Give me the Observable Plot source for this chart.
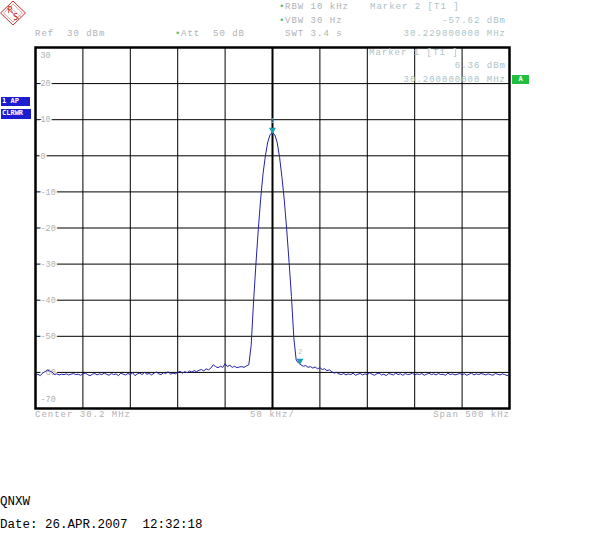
<!DOCTYPE html>
<html>
<head>
<meta charset="utf-8">
<script src="https://cdn.jsdelivr.net/npm/d3@7"></script>
<script src="https://cdn.jsdelivr.net/npm/@observablehq/plot@0.6"></script>
<style>
  body { margin: 0; background: #fff; }
  #wrap { position: relative; width: 605px; height: 546px; overflow: hidden; background: #fff;
          font-family: "Liberation Mono", "DejaVu Sans Mono", monospace; }
  #chart { position: absolute; left: 0; top: 0; }
  .t { position: absolute; font-size: 9px; line-height: 10px; height: 10px; letter-spacing: 1px;
       color: #b2b2b2; white-space: pre; }
  .m { color: #abc3c5; }
  .g { color: #58c060; }
  .box { position: absolute; font-size: 7px; line-height: 9px; color: #fff; font-weight: bold;
         white-space: pre; text-align: center; font-family: "DejaVu Sans Mono", monospace; }
  .big { position: absolute; font-size: 12.5px; line-height: 14px; color: #000; white-space: pre;
         font-family: "Liberation Mono", monospace; }
</style>
</head>
<body>
<div id="wrap">
  <div id="chart"></div>
</div>
<script>
// ---- data ----
const startMHz = 29.95;            // left edge of sweep (Center 30.2 MHz, Span 500 kHz)
const stepKHz = 2.5;               // spacing between trace samples
const levels = [
  -60.8, -60.5, -60.9, -60.2, -59.8, -59.4, -59.6, -59.9, -60.6, -60.4,
  -60.7, -60.5, -60.6, -60.4, -60.7, -60.5, -60.3, -60.6, -60.5, -60.8,
  -60.4, -60.2, -60.6, -60.9, -60.5, -60.3, -60.7, -60.4, -60.6, -60.2,
  -60.5, -60.8, -60.3, -60.6, -60.4, -60.9, -60.2, -60.5, -60.7, -60.3,
  -60.6, -60.1, -60.9, -60.4, -60.2, -60.6, -60.0, -60.5, -60.3, -60.7,
  -60.2, -59.9, -60.4, -60.6, -60.1, -60.3, -59.8, -60.5, -60.2, -60.4,
  -60.0, -59.7, -60.2, -59.8, -60.1, -59.6, -59.9, -59.5, -59.8, -59.4,
  -59.2, -59.6, -59.0, -59.3, -58.8, -57.9, -58.4, -58.7, -58.3, -58.6,
  -57.6, -58.4, -58.0, -58.6, -58.3, -58.7, -58.5, -58.4, -58.6, -58.2,
  -57.9, -52.5, -40.5, -30.0, -20.5, -12.0, -5.0, 0.0, 3.8, 5.9,
  6.36, 5.8, 3.6, -0.5, -6.0, -12.5, -20.5, -29.5, -39.0, -50.5,
  -56.6, -57.4, -57.9, -58.3, -58.1, -58.6, -58.4, -58.8, -58.5, -59.0,
  -58.7, -59.2, -59.0, -59.5, -59.3, -59.8, -60.2, -60.0, -60.4, -60.6,
  -60.3, -60.7, -60.4, -60.6, -60.2, -60.8, -60.5, -60.3, -60.7, -60.4,
  -60.6, -60.1, -60.5, -60.8, -60.4, -60.2, -60.7, -60.5, -60.9, -60.3,
  -60.5, -60.7, -60.2, -60.6, -60.4, -60.8, -60.3, -60.6, -60.5, -60.2,
  -60.7, -60.4, -60.6, -60.3, -60.8, -60.5, -60.2, -60.6, -60.4, -60.7,
  -60.3, -60.6, -60.5, -60.8, -60.2, -60.6, -60.4, -60.7, -60.5, -60.3,
  -60.6, -60.4, -60.8, -60.5, -60.2, -60.7, -60.4, -60.6, -60.3, -60.5,
  -60.7, -60.4, -60.6, -60.8, -60.3, -60.5, -60.7, -60.4, -60.6, -60.9,
  -60.5
];
const xTicks = [29.95, 30.00, 30.05, 30.10, 30.15, 30.20, 30.25, 30.30, 30.35, 30.40, 30.45];
const centerMHz = 30.2;
const yTicks = [30, 20, 10, 0, -10, -20, -30, -40, -50, -60, -70];
const yTickLabels = ["30", "20", "10", "0", "-10", "-20", "-30", "-40", "-50", "-60", "-70"];
const markerNames = ["1", "2"];
const markerFreqs = [30.2, 30.229];
const markerLevels = [6.36, -57.62];

// header / footer texts
const headerLeft = [
  {text: "Ref  30 dBm", left: 35, y: 34},
  {text: "Att  50 dB", left: 181, y: 34},
  {text: "RBW 10 kHz", left: 285, y: 7},
  {text: "VBW 30 Hz", left: 285, y: 21},
  {text: "SWT 3.4 s", left: 285, y: 34}
];
const bullets = [{left: 175, y: 34}, {left: 279, y: 7}, {left: 279, y: 21}];
const markerLeft = [
  {text: "Marker 2 [T1 ]", left: 370, y: 7},
  {text: "Marker 1 [T1 ]", left: 369, y: 53}
];
const markerRight = [
  {text: "-57.62 dBm", right: 505, y: 21},
  {text: "30.229000000 MHz", right: 505, y: 34},
  {text: "6.36 dBm", right: 505, y: 66},
  {text: "30.200000000 MHz", right: 505, y: 80}
];
const footer = [
  {text: "Center 30.2 MHz", left: 35, y: 415},
  {text: "50 kHz/", left: 250, y: 415}
];
const footerRight = [{text: "Span 500 kHz", right: 509, y: 415}];
const bottomLines = [
  {text: "QNXW", y: 502},
  {text: "Date: 26.APR.2007  12:32:18", y: 525}
];

// ---- build table ----
const trace = levels.map((v, i) => ({f: startMHz + (i * stepKHz) / 1000, v}));
const markers = markerNames.map((n, i) => ({name: n, f: markerFreqs[i], v: markerLevels[i]}));
const yLab = yTicks.map((v, i) => ({v, label: yTickLabels[i]}));
const yLabMid = yLab.slice(1, -1), yLabTop = yLab.slice(0, 1), yLabBot = yLab.slice(-1);

const labelStyle = {
  frameAnchor: "left", y: "v", text: "label", dx: 5,
  textAnchor: "start", fill: "#b0b0b0", stroke: "white", strokeWidth: 3,
  fontSize: 8.5, fontFamily: "Liberation Mono, monospace"
};

const W = 605, H = 546;
const chart = Plot.plot({
  width: W, height: H,
  marginLeft: 35, marginRight: 96, marginTop: 47, marginBottom: 138,
  x: {domain: [xTicks[0], xTicks[xTicks.length - 1]], axis: null},
  y: {domain: [yTicks[yTicks.length - 1], yTicks[0]], axis: null},
  style: {background: "white", overflow: "visible"},
  marks: [
    Plot.ruleY(yTicks.slice(1, -1), {stroke: "black", strokeWidth: 1, strokeOpacity: 1}),
    Plot.ruleX(xTicks.slice(1, -1).filter(d => Math.abs(d - centerMHz) > 1e-9),
      {stroke: "black", strokeWidth: 1, strokeOpacity: 1}),
    Plot.ruleX([centerMHz], {stroke: "black", strokeWidth: 2, strokeOpacity: 1}),
    Plot.text(yLabMid, labelStyle),
    Plot.text(yLabTop, {...labelStyle, dy: 8}),
    Plot.text(yLabBot, {...labelStyle, dy: -9}),
    Plot.line(trace, {x: "f", y: "v", stroke: "#2222a8", strokeWidth: 1}),
    Plot.dot(markers, {x: "f", y: "v", symbol: "triangle", r: 2.6, rotate: 180,
      fill: "#1b9fb2", stroke: "none", dy: -3}),
    Plot.text(markers, {x: "f", y: "v", text: "name", dy: -12, fill: "#b8c4c4",
      fontSize: 7, fontFamily: "Liberation Mono, monospace"}),
    Plot.frame({stroke: "black", strokeWidth: 2.5})
  ]
});
document.getElementById("chart").appendChild(chart);

// ---- overlays (instrument annotations) ----
const wrap = document.getElementById("wrap");
function add(cls, text, css) {
  const el = document.createElement("div");
  el.className = cls;
  el.textContent = text;
  Object.assign(el.style, css);
  wrap.appendChild(el);
  return el;
}
headerLeft.forEach(d => add("t", d.text, {left: d.left + "px", top: (d.y - 5) + "px"}));
bullets.forEach(d => add("t g", "•", {left: d.left + "px", top: (d.y - 5) + "px", letterSpacing: "0"}));
markerLeft.forEach(d => add("t m", d.text, {left: d.left + "px", top: (d.y - 5) + "px"}));
markerRight.forEach(d => add("t m", d.text, {right: (W - d.right - 1) + "px", top: (d.y - 5) + "px"}));
footer.forEach(d => add("t", d.text, {left: d.left + "px", top: (d.y - 5) + "px"}));
footerRight.forEach(d => add("t", d.text, {right: (W - d.right - 1) + "px", top: (d.y - 5) + "px"}));
bottomLines.forEach(d => add("big", d.text, {left: "0px", top: (d.y - 7) + "px"}));

add("box", "A", {left: "512px", top: "75px", width: "17px", height: "9px", background: "#22c040"});
add("box", "1 AP", {left: "1px", top: "97px", width: "28px", height: "9px", background: "#1c1cd0", textAlign: "left", paddingLeft: "1px"});
add("box", "CLRWR", {left: "1px", top: "109px", width: "29px", height: "10px", background: "#1c1cd0", textAlign: "left", paddingLeft: "1px"});

// R&S logo
const ns = "http://www.w3.org/2000/svg";
const logo = document.createElementNS(ns, "svg");
logo.setAttribute("width", "28"); logo.setAttribute("height", "28");
logo.style.position = "absolute"; logo.style.left = "0px"; logo.style.top = "0px";
logo.innerHTML =
  '<polygon points="13,1 25.5,13 13,25 0.5,13" fill="none" stroke="#c03030" stroke-width="1"/>' +
  '<polygon points="13,4 22.5,13 13,22 3.5,13" fill="none" stroke="#d06060" stroke-width="0.6"/>' +
  '<line x1="7" y1="8" x2="19" y2="19" stroke="#c03030" stroke-width="0.7"/>' +
  '<line x1="9" y1="6" x2="21" y2="17" stroke="#d06060" stroke-width="0.5"/>' +
  '<text x="7.5" y="13" font-size="8" fill="#c03030" font-family="DejaVu Sans">R</text>' +
  '<text x="13" y="20" font-size="8" fill="#c03030" font-family="DejaVu Sans">S</text>';
wrap.appendChild(logo);
</script>
</body>
</html>
